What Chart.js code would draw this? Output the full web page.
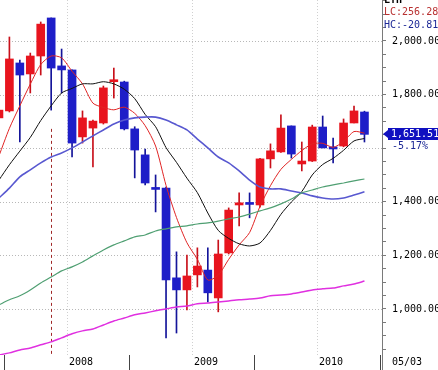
<!DOCTYPE html>
<html>
<head>
<meta charset="utf-8">
<script src="https://cdn.jsdelivr.net/npm/chart.js@4.4.0/dist/chart.umd.min.js"></script>
<style>
  html, body { margin: 0; padding: 0; background: #fff; }
</style>
</head>
<body>
<canvas id="kospi" width="438" height="370"></canvas>
<script>
// monthly candles, 2007/06 .. 2010/05 (x index 0..35)
const months = ['2007/06','2007/07','2007/08','2007/09','2007/10','2007/11','2007/12',
  '2008/01','2008/02','2008/03','2008/04','2008/05','2008/06','2008/07','2008/08','2008/09','2008/10','2008/11','2008/12',
  '2009/01','2009/02','2009/03','2009/04','2009/05','2009/06','2009/07','2009/08','2009/09','2009/10','2009/11','2009/12',
  '2010/01','2010/02','2010/03','2010/04','2010/05'];
const opens  = [1713,1739,1918,1877,1944,2086,1907, 1892,1642,1675,1694,1848,1847,1672,1575,1450,1451,1116,1071,
  1127,1145,1041,1209,1388,1394,1388,1560,1586,1683,1541,1552, 1679,1604,1608,1694,1735];
const highs  = [1760,2015,1929,1955,2071,2086,1970, 1892,1739,1705,1832,1899,1850,1680,1597,1500,1455,1213,1201,
  1228,1228,1257,1377,1433,1433,1562,1616,1724,1683,1623,1686, 1720,1638,1709,1757,1738];
const lows   = [1690,1735,1623,1806,1873,1742,1806, 1567,1619,1530,1690,1787,1668,1489,1463,1362,892,910,996,
  1082,1026,989,1205,1310,1340,1380,1526,1584,1563,1515,1550, 1601,1545,1605,1694,1623];
const closes = [1742,1933,1873,1944,2063,1899,1892, 1619,1713,1701,1825,1852,1672,1593,1470,1446,1108,1071,1123,
  1160,1060,1205,1369,1396,1390,1560,1590,1675,1578,1552,1679, 1601,1597,1694,1739,1651.51];

// moving averages
const ma5   = [1571,1674,1758,1839,1912,1944,1937, 1887,1840,1768,1752,1743,1753,1730,1684,1608,1461,1341,1247,
  1185,1108,1126,1185,1239,1285,1383,1460,1521,1558,1591,1616, 1618,1603,1625,1662,1656];
const ma10  = [1481,1538,1589,1640,1703,1758,1806, 1823,1840,1840,1848,1840,1820,1785,1726,1680,1602,1547,1488,
  1434,1358,1293,1263,1243,1235,1246,1293,1353,1399,1438,1500, 1539,1562,1592,1627,1636];
const ma20  = [1414,1451,1493,1519,1545,1567,1582, 1601,1623,1646,1668,1690,1705,1713,1716,1716,1705,1687,1668,
  1634,1601,1567,1545,1515,1481,1455,1448,1448,1440,1433,1422, 1414,1410,1414,1425,1437];
const ma60  = [1015,1034,1049,1071,1097,1119,1142, 1157,1175,1198,1220,1239,1254,1269,1276,1291,1299,1306,1310,
  1317,1321,1328,1336,1343,1354,1366,1377,1392,1410,1433,1444, 1455,1463,1470,1478,1485];
const ma120 = [828,836,847,854,866,877,892, 907,918,925,940,955,966,978,985,993,1000,1007,1011,
  1019,1022,1026,1030,1034,1037,1041,1049,1052,1056,1063,1071, 1075,1078,1086,1093,1104];

// axis ticks
const priceTicks = [850,900,950,1000,1050,1100,1150,1200,1250,1300,1350,1400,1450,1500,1550,1600,1650,
  1700,1750,1800,1850,1900,1950,2000,2050,2100,2150];
const gridPrices = [1000,1200,1400,1600,1800,2000];
const yearTicks  = [6.5, 18.5, 30.5];
const yearLabels = ['2008', '2009', '2010'];
const peakIndex = 5;          // dashed marker month
const peakMarkFrom = 1672;
const lastDateLabel = '05/03';
const changeLabel = '-5.17%';
const lcLabel = 'LC:256.28';
const hcLabel = 'HC:-20.81';

const RED = '#e8141e', BLUE = '#1e1ec8';
const candleColors = closes.map((c, i) => c >= opens[i] ? RED : BLUE);
const wickColors = closes.map((c, i) => c >= opens[i] ? '#c8101a' : '#14149a');
const fmt = v => v.toLocaleString('en-US', { minimumFractionDigits: 2, maximumFractionDigits: 2 });
const MONO = '"DejaVu Sans Mono", monospace';

const line = (data, color, width) => ({
  type: 'line',
  data: data.map((v, i) => ({ x: i, y: v })),
  borderColor: color,
  borderWidth: width,
  pointRadius: 0,
  tension: 0.25,
  order: 0
});

const decor = {
  id: 'decor',
  beforeDatasetsDraw(chart) {
    const { ctx, chartArea: a, scales: { x, y } } = chart;
    ctx.save();
    ctx.lineWidth = 1;
    ctx.strokeStyle = '#b8b8b8';
    ctx.setLineDash([1, 2]);
    gridPrices.forEach(v => {
      const py = Math.round(y.getPixelForValue(v)) + 0.5;
      ctx.beginPath(); ctx.moveTo(a.left, py); ctx.lineTo(a.right, py); ctx.stroke();
    });
    ctx.strokeStyle = '#d0d0d0';
    yearTicks.forEach(v => {
      const px = Math.round(x.getPixelForValue(v)) + 0.5;
      ctx.beginPath(); ctx.moveTo(px, a.top); ctx.lineTo(px, a.bottom); ctx.stroke();
    });
    // dashed marker at the top month
    ctx.strokeStyle = '#a02828';
    ctx.setLineDash([3, 3]);
    const mx = Math.round(x.getPixelForValue(peakIndex)) + 0.5;
    ctx.beginPath(); ctx.moveTo(mx, y.getPixelForValue(peakMarkFrom)); ctx.lineTo(mx, a.bottom); ctx.stroke();
    ctx.restore();
  },
  afterDraw(chart) {
    const { ctx, chartArea: a, scales: { x, y } } = chart;
    ctx.save();
    // axis line down to the bottom
    ctx.strokeStyle = '#7a7a7a';
    ctx.beginPath(); ctx.moveTo(a.right + 0.5, a.bottom); ctx.lineTo(a.right + 0.5, 370); ctx.stroke();

    ctx.font = '10px ' + MONO;
    ctx.textBaseline = 'middle';
    ctx.textAlign = 'left';
    ctx.fillStyle = '#000';
    yearTicks.forEach((v, i) => {
      ctx.fillText(yearLabels[i], Math.round(x.getPixelForValue(v)) + 2, 362);
    });
    ctx.fillText(lastDateLabel, 392, 362);

    ctx.font = 'bold 10px ' + MONO;
    ctx.textBaseline = 'alphabetic';
    ctx.fillText('LTH', 384, 3);
    ctx.font = '10px ' + MONO;
    ctx.textBaseline = 'middle';
    ctx.fillStyle = '#b83030';
    ctx.fillText(lcLabel, 384, 12);
    ctx.fillStyle = '#1c2896';
    ctx.fillText(hcLabel, 384, 25);

    // current price tag
    const last = closes[closes.length - 1];
    const py = Math.round(y.getPixelForValue(last));
    ctx.fillStyle = '#fff';
    ctx.fillRect(389, py + 6, 49, 12);
    ctx.fillStyle = '#1010c0';
    ctx.fillRect(388, py - 6, 50, 12);
    ctx.beginPath(); ctx.moveTo(383, py); ctx.lineTo(388, py - 4); ctx.lineTo(388, py + 4); ctx.closePath(); ctx.fill();
    ctx.fillStyle = '#fff';
    ctx.fillText(fmt(last), 391, py + 0.5);
    ctx.fillStyle = '#1c2896';
    ctx.fillText(changeLabel, 392, py + 12);
    ctx.restore();
  }
};

new Chart(document.getElementById('kospi').getContext('2d'), {
  type: 'bar',
  data: {
    datasets: [
      line(ma120, '#e030e0', 1.5),
      line(ma60, '#4f9f72', 1.2),
      line(ma20, '#5858d0', 1.6),
      line(ma10, '#101010', 1),
      line(ma5, '#e02424', 1),
      {
        // bodies
        data: opens.map((o, i) => ({ x: i, y: [o, closes[i]] })),
        backgroundColor: candleColors,
        barThickness: 8,
        minBarLength: 2,
        grouped: false,
        order: 1
      },
      {
        // wicks
        data: lows.map((l, i) => ({ x: i, y: [l, highs[i]] })),
        backgroundColor: wickColors,
        barThickness: 1,
        grouped: false,
        order: 2
      }
    ]
  },
  options: {
    responsive: false,
    devicePixelRatio: 1,
    animation: false,
    events: [],
    layout: { padding: 0 },
    plugins: { legend: { display: false }, tooltip: { enabled: false } },
    scales: {
      x: {
        type: 'linear', min: 0.1, max: 36.68, offset: false,
        afterBuildTicks: s => { s.ticks = yearTicks.map(v => ({ value: v })); },
        afterFit: s => { s.height = 15; s.paddingLeft = 0; s.paddingRight = 0; },
        ticks: { display: false },
        grid: { drawOnChartArea: false, drawTicks: true, tickLength: 15, tickColor: '#444' },
        border: { display: false }
      },
      y: {
        type: 'linear', position: 'right', min: 828, max: 2153,
        afterBuildTicks: s => { s.ticks = priceTicks.map(v => ({ value: v })); },
        afterFit: s => { s.width = 56; s.paddingTop = 0; s.paddingBottom = 0; },
        ticks: {
          autoSkip: false, padding: 6, color: '#000',
          font: { family: MONO, size: 10 },
          callback: v => v % 200 === 0 ? fmt(v) : ''
        },
        grid: { drawOnChartArea: false, drawTicks: true, tickLength: 4, tickColor: '#7a7a7a' },
        border: { display: true, color: '#7a7a7a', width: 1 }
      }
    }
  },
  plugins: [decor]
});
</script>
</body>
</html>
